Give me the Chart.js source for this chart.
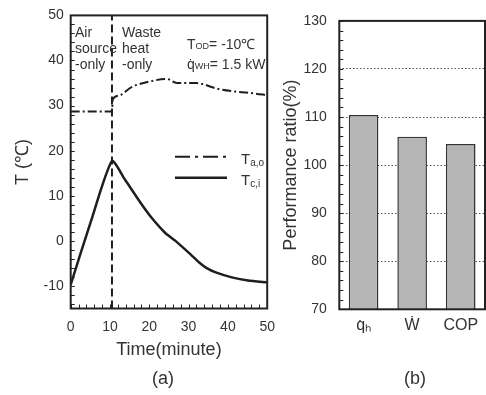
<!DOCTYPE html>
<html>
<head>
<meta charset="utf-8">
<script src="https://cdn.jsdelivr.net/npm/chart.js@4.4.0/dist/chart.umd.min.js"></script>
<style>
  body { margin: 0; width: 486px; height: 395px; background: #fff; position: relative; overflow: hidden;
         font-family: "Liberation Sans", Arial, sans-serif; color: #333; }
  .box { position: absolute; }
  .note { position: absolute; font-size: 14px; line-height: 16px; white-space: nowrap; }
  .sm { font-size: 9px; }
  .cap { position: absolute; font-size: 18px; line-height: 20px; }
</style>
</head>
<body>
<div class="box" style="left:0;top:0;width:285px;height:370px"><canvas id="chartA"></canvas></div>
<div class="box" style="left:270px;top:0;width:216px;height:395px"><canvas id="chartB"></canvas></div>

<div class="note" style="left:75px;top:24px">Air<br>source<br>-only</div>
<div class="note" style="left:122px;top:24px">Waste<br>heat<br>-only</div>
<div class="note" style="left:187px;top:36px;line-height:17.7px">T<span class="sm">OD</span>= -10℃<br>q̇<span class="sm">WH</span>= 1.5 kW</div>
<div class="cap" style="left:152px;top:368px">(a)</div>
<div class="cap" style="left:404px;top:368px">(b)</div>

<script>
// (a) temperatures
const taoTime = [0, 10.5, 10.7, 12.2, 15.5, 20.4, 24.5, 27, 32, 33.5, 37, 42, 46.7, 50];
const taoValues = [28.7, 28.7, 31.4, 32.2, 34.1, 35.4, 35.9, 35.0, 35.0, 34.8, 33.8, 33.1, 32.7, 32.3];
const tciTime = [0, 5.1, 10.5, 13.8, 17.9, 20.7, 24, 26.5, 30.5, 32.7, 34.5, 36.9, 41, 45.1, 50];
const tciValues = [-9.7, 4.2, 17.7, 13.6, 8.3, 5.0, 1.8, 0.1, -3.0, -4.8, -6.0, -7.0, -8.1, -8.8, -9.2];
const switchTime = 10.5;
const xTicksA = [0, 10, 20, 30, 40, 50];
const yTicksA = [-10, 0, 10, 20, 30, 40, 50];

// (b) performance ratio
const barLabels = ['q̇ₕ', 'Ẇ', 'COP'];
const ratioValues = [110.4, 105.9, 104.4];
const yTicksB = [70, 80, 90, 100, 110, 120, 130];

const FONT = '"Liberation Sans", Arial, sans-serif';
const ink = '#333';

// box round the plot + little inside ticks
const frameTicks = {
  id: 'frameTicks',
  afterDatasetsDraw(chart, args, opts) {
    const { ctx, chartArea: a, scales } = chart;
    ctx.save();
    ctx.strokeStyle = '#222';
    ctx.lineWidth = 1;
    if (opts.yStep) {
      const s = scales.y;
      for (let i = Math.ceil(s.min / opts.yStep); i * opts.yStep <= s.max; i++) {
        const p = Math.round(s.getPixelForValue(i * opts.yStep)) + 0.5;
        ctx.beginPath(); ctx.moveTo(a.left, p); ctx.lineTo(a.left + 4, p); ctx.stroke();
      }
    }
    if (opts.xStep) {
      const s = scales.x;
      for (let i = Math.ceil(s.min / opts.xStep); i * opts.xStep <= s.max; i++) {
        const p = Math.round(s.getPixelForValue(i * opts.xStep)) + 0.5;
        ctx.beginPath(); ctx.moveTo(p, a.bottom); ctx.lineTo(p, a.bottom - 4); ctx.stroke();
      }
    }
    ctx.lineWidth = 2;
    ctx.strokeRect(a.left, a.top, a.right - a.left, a.bottom - a.top);
    ctx.restore();
  }
};

// legend with subscripts
const lineKey = {
  id: 'lineKey',
  afterDatasetsDraw(chart, args, opts) {
    if (!opts.items) return;
    const { ctx, chartArea: a } = chart;
    ctx.save();
    opts.items.forEach((it, i) => {
      const ds = chart.data.datasets[it.dataset];
      const y = a.top + opts.top + i * opts.gap;
      const x0 = a.left + opts.left;
      ctx.strokeStyle = ds.borderColor;
      ctx.lineWidth = ds.borderWidth;
      ctx.setLineDash(it.dash || []);
      ctx.beginPath(); ctx.moveTo(x0, y); ctx.lineTo(x0 + opts.len, y); ctx.stroke();
      ctx.setLineDash([]);
      ctx.fillStyle = ink;
      ctx.font = '15px ' + FONT;
      const tx = x0 + opts.len + 14;
      ctx.fillText(it.main, tx, y + 7);
      const w = ctx.measureText(it.main).width;
      ctx.font = '10px ' + FONT;
      ctx.fillText(it.sub, tx + w, y + 9);
    });
    ctx.restore();
  }
};

new Chart(document.getElementById('chartA'), {
  type: 'line',
  data: {
    datasets: [
      {
        label: 'Ta,o',
        data: taoTime.map((t, i) => ({ x: t, y: taoValues[i] })),
        borderColor: '#1e1e1e', borderWidth: 2, borderDash: [9, 3, 2, 3],
        pointRadius: 0, cubicInterpolationMode: 'monotone'
      },
      {
        label: 'Tc,i',
        data: tciTime.map((t, i) => ({ x: t, y: tciValues[i] })),
        borderColor: '#1e1e1e', borderWidth: 2.5,
        pointRadius: 0, tension: 0.2
      },
      {
        label: 'switch',
        data: [{ x: switchTime, y: -15 }, { x: switchTime, y: 50 }],
        borderColor: '#1e1e1e', borderWidth: 2, borderDash: [8, 4], pointRadius: 0
      }
    ]
  },
  options: {
    responsive: true, maintainAspectRatio: false, animation: false,
    layout: { padding: { top: 12, right: 11.7, left: 0, bottom: 0 } },
    plugins: {
      legend: { display: false }, tooltip: { enabled: false },
      frameTicks: { xStep: 2, yStep: 2 },
      lineKey: {
        top: 141.3, gap: 21, left: 104.3, len: 52,
        items: [
          { dataset: 0, main: 'T', sub: 'a,o', dash: [15, 5, 3, 5] },
          { dataset: 1, main: 'T', sub: 'c,i' }
        ]
      }
    },
    scales: {
      x: {
        type: 'linear', min: 0, max: 50,
        afterBuildTicks: s => { s.ticks = xTicksA.map(v => ({ value: v })); },
        afterFit: s => { s.height = 61.5; },
        grid: { display: false, drawTicks: false }, border: { display: false },
        ticks: { padding: 10, color: ink, maxRotation: 0, font: { family: FONT, size: 14 } },
        title: { display: true, text: 'Time(minute)', color: ink, font: { family: FONT, size: 18 }, padding: { top: 0, bottom: 8.7 } }
      },
      y: {
        min: -15, max: 50,
        afterBuildTicks: s => { s.ticks = yTicksA.map(v => ({ value: v })); },
        afterFit: s => { s.width = 70.7; },
        grid: { display: false, drawTicks: false }, border: { display: false },
        ticks: { padding: 7, color: ink, font: { family: FONT, size: 14 } },
        title: { display: true, text: 'T (℃)', color: ink, font: { family: FONT, size: 18 }, padding: { top: 12.2, bottom: 0 } }
      }
    }
  },
  plugins: [frameTicks, lineKey]
});

new Chart(document.getElementById('chartB'), {
  type: 'bar',
  data: {
    labels: barLabels,
    datasets: [{
      label: 'Performance ratio',
      data: ratioValues,
      backgroundColor: '#b5b5b5', borderColor: '#333', borderWidth: 1.5,
      barPercentage: 0.61, categoryPercentage: 1
    }]
  },
  options: {
    responsive: true, maintainAspectRatio: false, animation: false,
    layout: { padding: { top: 11, right: 1, left: 0, bottom: 0 } },
    plugins: {
      legend: { display: false }, tooltip: { enabled: false },
      frameTicks: { yStep: 2 }
    },
    scales: {
      x: {
        afterFit: s => { s.height = 85.7; },
        grid: { display: false, drawTicks: false }, border: { display: false },
        ticks: { padding: 7, color: ink, font: { family: FONT, size: 16 } }
      },
      y: {
        min: 70, max: 130,
        afterBuildTicks: s => { s.ticks = yTicksB.map(v => ({ value: v })); },
        afterFit: s => { s.width = 69.3; },
        grid: {
          drawTicks: false, lineWidth: 1,
          color: c => (c.tick && (c.tick.value === 70 || c.tick.value === 130)) ? 'rgba(0,0,0,0)' : '#555'
        },
        border: { display: false, dash: [1.5, 2] },
        ticks: { padding: 12.5, color: ink, font: { family: FONT, size: 14 } },
        title: { display: true, text: 'Performance ratio(%)', color: ink, font: { family: FONT, size: 18 }, padding: { top: 10.7, bottom: 0 } }
      }
    }
  },
  plugins: [frameTicks]
});
</script>
</body>
</html>
